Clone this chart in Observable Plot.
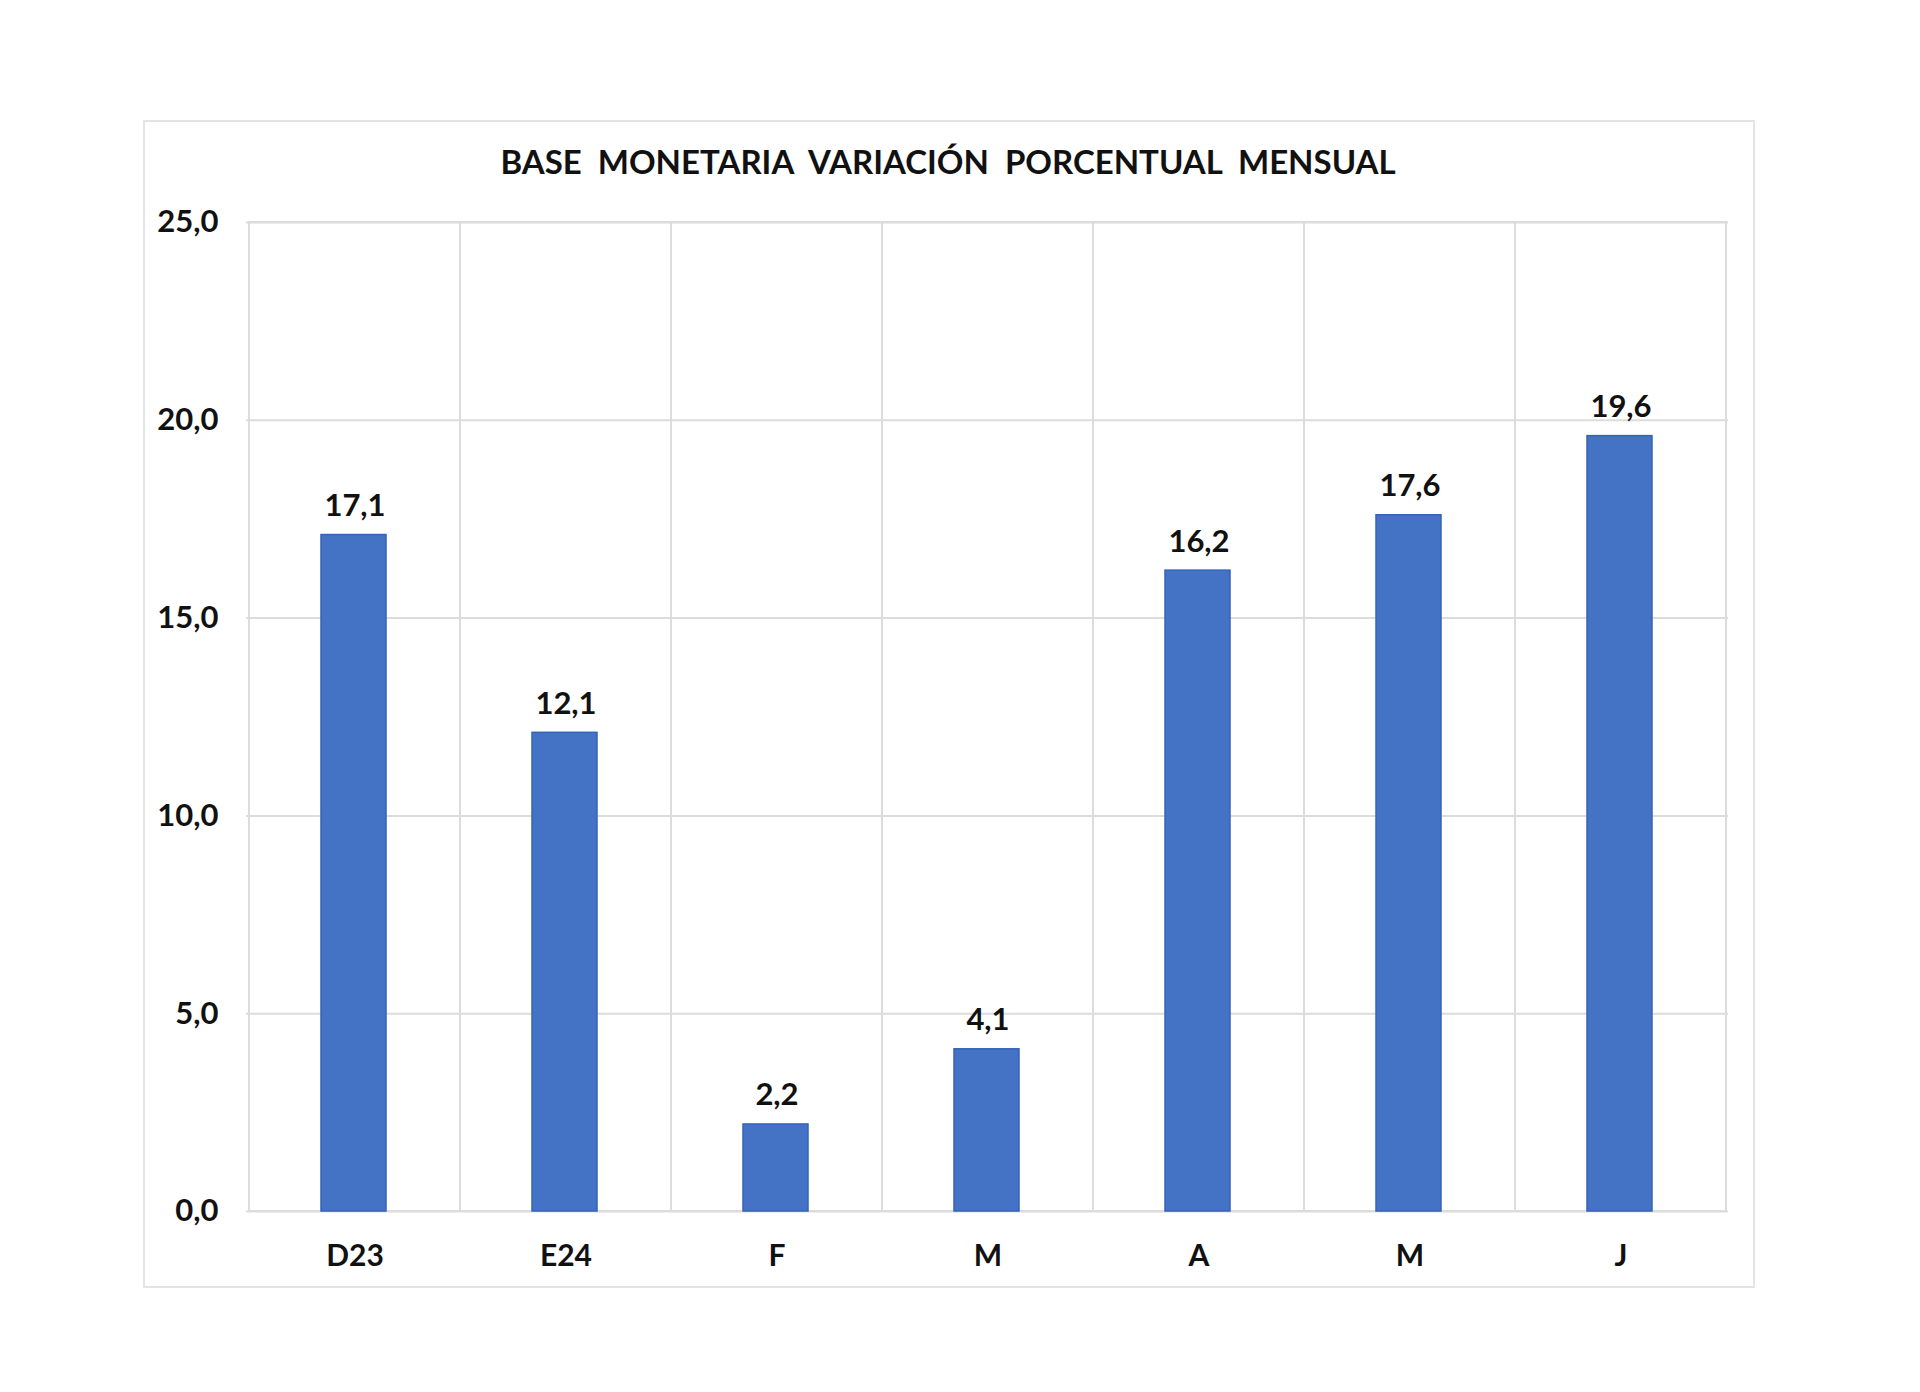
<!DOCTYPE html>
<html>
<head>
<meta charset="utf-8">
<script src="https://cdn.jsdelivr.net/npm/d3@7"></script>
<script src="https://cdn.jsdelivr.net/npm/@observablehq/plot@0.6"></script>
<style>
  html, body { margin: 0; padding: 0; background: #fff; }
  #wrap { position: relative; width: 1920px; height: 1392px; font-family: Lato, "Open Sans", sans-serif; }
  #box { position: absolute; left: 143px; top: 120px; width: 1612px; height: 1168px; border: 2px solid #e3e3e3; box-sizing: border-box; }
  #title { position: absolute; left: 0; width: 1896px; top: 141px; text-align: center; font-weight: 700; font-size: 33px; color: #111; white-space: pre; }
  #chart { position: absolute; left: 0; top: 0; }
</style>
</head>
<body>
<div id="wrap">
  <div id="box"></div>
  <div id="chart"></div>
  <div id="title">BASE  MONETARIA  VARIACIÓN  PORCENTUAL  MENSUAL</div>
</div>
<script>
const months = ["D23", "E24", "F", "M", "A", "M", "J"];
const values = [17.1, 12.1, 2.2, 4.1, 16.2, 17.6, 19.6];
const yTicks = [0, 5, 10, 15, 20, 25];

const keys = months.map((m, i) => i);
const data = months.map((m, i) => ({key: i, label: m, value: values[i]}));
const fmt = d => d.toFixed(1).replace(".", ",");

const chart = Plot.plot({
  width: 1920,
  height: 1392,
  marginLeft: 246,
  marginRight: 192,
  marginTop: 222,
  marginBottom: 181,
  style: {fontFamily: "Lato, 'Open Sans', sans-serif", fontWeight: 700, color: "#111", background: "transparent"},
  x: {domain: keys, padding: 0},
  y: {domain: [0, 25]},
  marks: [
    Plot.ruleY(yTicks, {stroke: "#dcdcdc", strokeWidth: 2}),
    Plot.barY(data, {x: "key", y1: 0, y2: 25, fill: "none", stroke: "#dcdcdc", strokeWidth: 2, inset: 0}),
    Plot.barY(data, {x: "key", y: "value", fill: "#4472C4", stroke: "#3563b5", strokeWidth: 1.5, insetLeft: 72, insetRight: 74}),
    Plot.text(data, {x: "key", y: "value", text: d => fmt(d.value), dy: -29, fontSize: 31, fontWeight: 700, fill: "#111"}),
    Plot.axisY({ticks: yTicks, tickFormat: fmt, tickSize: 0, tickPadding: 28, fontSize: 31, fontWeight: 700, label: null}),
    Plot.axisX({tickFormat: i => months[i], tickSize: 0, tickPadding: 33, fontSize: 30, fontWeight: 700, label: null})
  ]
});
document.getElementById("chart").appendChild(chart);
</script>
</body>
</html>
